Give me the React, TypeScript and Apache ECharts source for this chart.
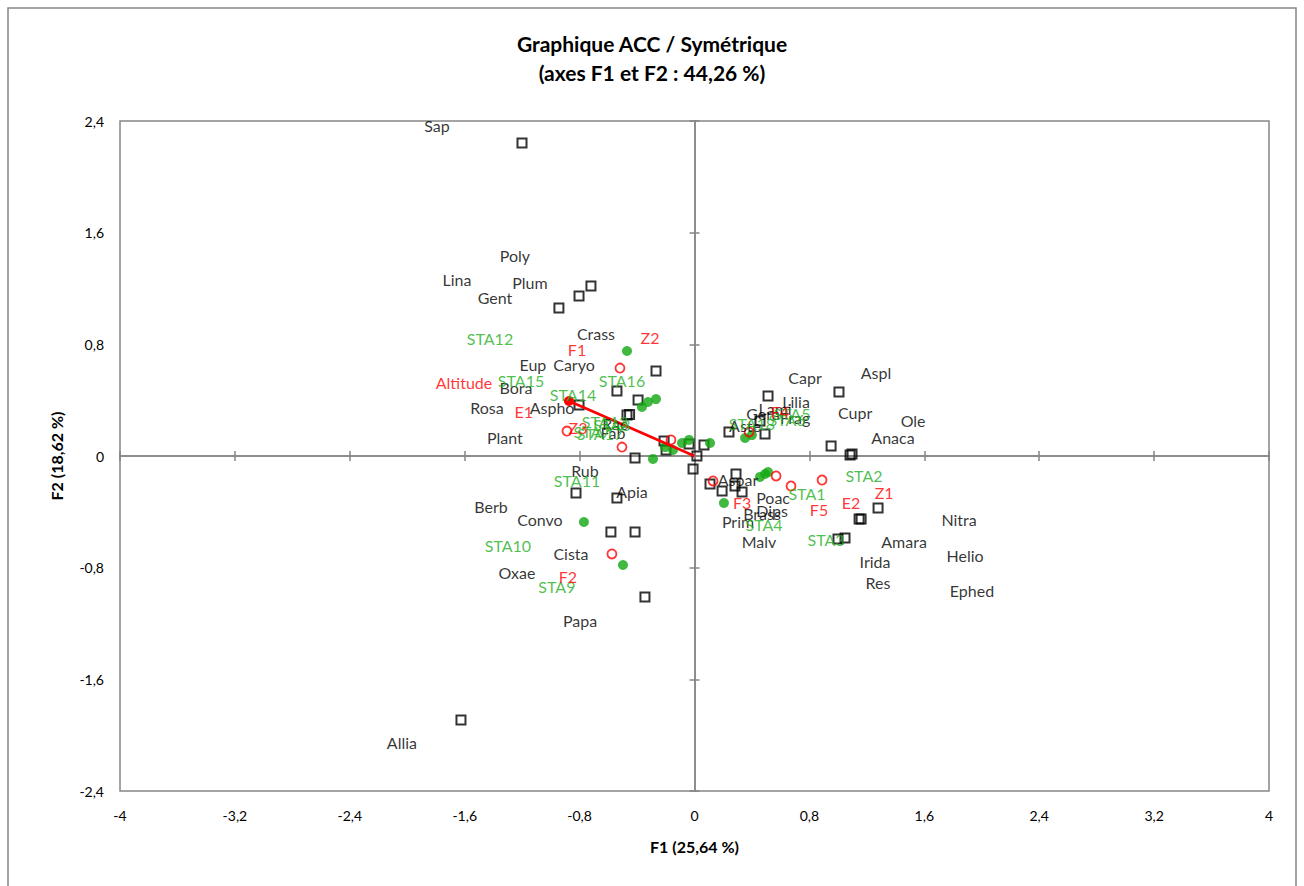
import React, { useEffect, useRef } from "react";
import * as echarts from "echarts";

// Species (black open squares): [F1, F2]
const speciesPoints: [number, number][] = [
  [-1.201, 2.242], [-0.721, 1.218], [-0.804, 1.146], [-0.944, 1.06], [-0.268, 0.609],
  [-0.54, 0.466], [-0.393, 0.401], [-0.804, 0.365], [-0.47, 0.294], [-0.452, 0.298],
  [-0.212, 0.107], [-0.198, 0.043], [-0.038, 0.086], [0.066, 0.079], [0.017, 0.0],
  [-0.414, -0.014], [-0.01, -0.093], [0.512, 0.43], [1.006, 0.458], [0.456, 0.251],
  [0.24, 0.172], [0.491, 0.158], [0.951, 0.072], [1.083, 0.007], [1.097, 0.014],
  [0.289, -0.129], [0.108, -0.201], [0.282, -0.215], [0.192, -0.251], [0.331, -0.258],
  [1.278, -0.372], [1.146, -0.451], [1.16, -0.451], [0.999, -0.595], [1.048, -0.587],
  [-0.825, -0.265], [-0.54, -0.301], [-0.582, -0.544], [-0.414, -0.544], [-0.345, -1.01],
  [-1.626, -1.891],
];

// Stations (green filled circles)
const stationPoints: [number, number][] = [
  [-0.47, 0.752], [-0.366, 0.351], [-0.324, 0.387], [-0.268, 0.408], [-0.289, -0.021],
  [-0.15, 0.043], [-0.087, 0.093], [-0.038, 0.115], [0.108, 0.093], [0.352, 0.129],
  [0.4, 0.15], [0.456, -0.15], [0.491, -0.129], [0.512, -0.115], [0.205, -0.337],
  [-0.77, -0.473], [-0.498, -0.781], [-0.205, 0.064],
];

// Qualitative variables (red open circles)
const variablePoints: [number, number][] = [
  [-0.519, 0.63], [-0.888, 0.179], [-0.505, 0.064], [-0.164, 0.115], [0.38, 0.172],
  [0.129, -0.179], [0.568, -0.143], [0.672, -0.215], [0.888, -0.172], [-0.575, -0.702],
];

// Quantitative variable vector (Altitude)
const altitudeVector: [number, number] = [-0.874, 0.394];

// Label positions [name, F1, F2]
const speciesLabels: [string, number, number][] = [
  ["Sap", -1.793, 2.371], ["Poly", -1.25, 1.433], ["Lina", -1.654, 1.261], ["Plum", -1.146, 1.246],
  ["Gent", -1.389, 1.139], ["Crass", -0.686, 0.881], ["Caryo", -0.839, 0.659], ["Eup", -1.125, 0.659],
  ["Bora", -1.243, 0.494], ["Rosa", -1.445, 0.351], ["Aspho", -0.992, 0.344], ["Plant", -1.32, 0.129],
  ["Rac", -0.554, 0.236], ["Fab", -0.568, 0.165], ["Rub", -0.763, -0.107], ["Apia", -0.435, -0.251],
  ["Berb", -1.417, -0.365], ["Convo", -1.076, -0.458], ["Cista", -0.86, -0.702], ["Oxae", -1.236, -0.838],
  ["Papa", -0.797, -1.175], ["Allia", -2.037, -2.056], ["Capr", 0.77, 0.559], ["Aspl", 1.264, 0.595],
  ["Lilia", 0.707, 0.394], ["Lami", 0.561, 0.337], ["Gera", 0.477, 0.308], ["Frag", 0.7, 0.279],
  ["Aste", 0.352, 0.215], ["Cupr", 1.118, 0.315], ["Ole", 1.522, 0.251], ["Anaca", 1.382, 0.136],
  ["Aspar", 0.303, -0.165], ["Poac", 0.547, -0.294], ["Dips", 0.54, -0.387], ["Brass", 0.47, -0.415],
  ["Prim", 0.303, -0.466], ["Malv", 0.449, -0.609], ["Nitra", 1.842, -0.458], ["Amara", 1.459, -0.616],
  ["Helio", 1.884, -0.716], ["Irida", 1.257, -0.759], ["Res", 1.278, -0.903], ["Ephed", 1.932, -0.967],
];

const stationLabels: [string, number, number][] = [
  ["STA12", -1.424, 0.845], ["STA15", -1.208, 0.544], ["STA14", -0.846, 0.444], ["STA16", -0.505, 0.544],
  ["STA13", -0.623, 0.244], ["STA8", -0.575, 0.229], ["STA7", -0.714, 0.172], ["STA17", -0.658, 0.158],
  ["STA11", -0.818, -0.179], ["STA10", -1.299, -0.638], ["STA9", -0.958, -0.938], ["STA2", 1.18, -0.143],
  ["STA1", 0.783, -0.272], ["STA4", 0.484, -0.494], ["STA3", 0.916, -0.595], ["STA18", 0.4, 0.236],
  ["STA5", 0.678, 0.308], ["STA6", 0.644, 0.258],
];

const variableLabels: [string, number, number][] = [
  ["Z2", -0.31, 0.852], ["F1", -0.818, 0.766], ["Altitude", -1.605, 0.523], ["E1", -1.188, 0.322],
  ["Z3", -0.811, 0.201], ["F4", 0.595, 0.322], ["Z1", 1.32, -0.258], ["E2", 1.09, -0.33],
  ["F5", 0.867, -0.38], ["F3", 0.331, -0.33], ["F2", -0.881, -0.86],
];

const titleLines = ["Graphique ACC / Symétrique", "(axes F1 et F2 : 44,26 %)"];
const xName = "F1 (25,64 %)";
const yName = "F2 (18,62 %)";
const xRange = [-4, 4];
const yRange = [-2.4, 2.4];
const tickStep = 0.8;

const FONT = "Lato, 'Open Sans', sans-serif";
const GREY = "#868686";
const GREEN = "#1faf1f";
const RED = "#ff0000";

const fmt = (v: number) => String(Number(v.toFixed(1))).replace(".", ",");

export default function App() {
  const ref = useRef<HTMLDivElement>(null);
  useEffect(() => {
    if (!ref.current) return;
    const chart = echarts.init(ref.current, undefined, { renderer: "svg" });

    const baseX = { type: "value", min: xRange[0], max: xRange[1], interval: tickStep, splitLine: { show: false } };
    const baseY = { type: "value", min: yRange[0], max: yRange[1], interval: tickStep, splitLine: { show: false } };

    const labelSeries = (items: [string, number, number][], color: string) => ({
      type: "scatter",
      symbolSize: 0,
      silent: true,
      z: 5,
      data: items.map(([n, x, y]) => ({ name: n, value: [x, y] })),
      label: {
        show: true,
        position: "inside",
        formatter: (p: any) => p.name,
        color,
        fontFamily: FONT,
        fontSize: 16,
      },
    });

    chart.setOption({
      animation: false,
      backgroundColor: "#ffffff",
      title: {
        text: titleLines.join("\n"),
        left: "center",
        top: 24,
        textStyle: { fontFamily: FONT, fontWeight: "bold", fontSize: 21, lineHeight: 29, color: "#000" },
      },
      graphic: [
        {
          type: "rect",
          shape: { x: 8, y: 8, width: 1288, height: 900 },
          style: { fill: "none", stroke: GREY, lineWidth: 1.5 },
          silent: true,
        },
      ],
      grid: { left: 120, right: 35, top: 121, bottom: 95, show: true, borderColor: GREY, borderWidth: 1.5, backgroundColor: "transparent" },
      xAxis: [
        {
          ...baseX,
          position: "bottom",
          axisLine: { show: false, onZero: false },
          axisTick: { show: false },
          axisLabel: { formatter: fmt, margin: 17, fontFamily: FONT, fontSize: 14, color: "#000" },
          name: xName,
          nameLocation: "middle",
          nameGap: 47,
          nameTextStyle: { fontFamily: FONT, fontWeight: "bold", fontSize: 16, color: "#000" },
        },
        {
          ...baseX,
          axisLine: { show: true, onZero: true, onZeroAxisIndex: 0, lineStyle: { color: GREY, width: 1.5 } },
          axisTick: { show: true, inside: false, length: 5, lineStyle: { color: GREY, width: 1.5 } },
          axisLabel: { show: false },
        },
        {
          ...baseX,
          axisLine: { show: true, onZero: true, onZeroAxisIndex: 0, lineStyle: { color: GREY, width: 1.5 } },
          axisTick: { show: true, inside: true, length: 5, lineStyle: { color: GREY, width: 1.5 } },
          axisLabel: { show: false },
        },
      ],
      yAxis: [
        {
          ...baseY,
          position: "left",
          axisLine: { show: false, onZero: false },
          axisTick: { show: false },
          axisLabel: { formatter: fmt, margin: 16, fontFamily: FONT, fontSize: 14, color: "#000" },
          name: yName,
          nameLocation: "middle",
          nameGap: 56,
          nameRotate: 90,
          nameTextStyle: { fontFamily: FONT, fontWeight: "bold", fontSize: 16, color: "#000" },
        },
        {
          ...baseY,
          axisLine: { show: true, onZero: true, onZeroAxisIndex: 0, lineStyle: { color: GREY, width: 1.5 } },
          axisTick: { show: true, inside: false, length: 5, lineStyle: { color: GREY, width: 1.5 } },
          axisLabel: { show: false },
        },
        {
          ...baseY,
          axisLine: { show: true, onZero: true, onZeroAxisIndex: 0, lineStyle: { color: GREY, width: 1.5 } },
          axisTick: { show: true, inside: true, length: 5, lineStyle: { color: GREY, width: 1.5 } },
          axisLabel: { show: false },
        },
      ],
      series: [
        {
          type: "scatter",
          name: "Species",
          symbol: "rect",
          symbolSize: 9,
          z: 3,
          itemStyle: { color: "rgba(255,255,255,0)", borderColor: "#000", borderWidth: 2 },
          data: speciesPoints,
        },
        {
          type: "scatter",
          name: "Stations",
          symbol: "circle",
          symbolSize: 10,
          z: 3,
          itemStyle: { color: "#12a812" },
          data: stationPoints,
        },
        {
          type: "scatter",
          name: "Variables",
          symbol: "circle",
          symbolSize: 9,
          z: 3,
          itemStyle: { color: "rgba(255,255,255,0)", borderColor: RED, borderWidth: 1.8 },
          data: variablePoints,
        },
        {
          type: "line",
          name: "Altitude",
          z: 4,
          lineStyle: { color: RED, width: 2.5 },
          itemStyle: { color: RED },
          symbolSize: 10,
          data: [
            { value: [0, 0], symbol: "none" },
            { value: altitudeVector, symbol: "circle" },
          ],
        },
        labelSeries(speciesLabels, "#000"),
        labelSeries(stationLabels, GREEN),
        labelSeries(variableLabels, RED),
      ],
    });
    return () => chart.dispose();
  }, []);
  return <div ref={ref} style={{ position: "fixed", left: 0, top: 0, width: 1304, height: 886 }} />;
}
